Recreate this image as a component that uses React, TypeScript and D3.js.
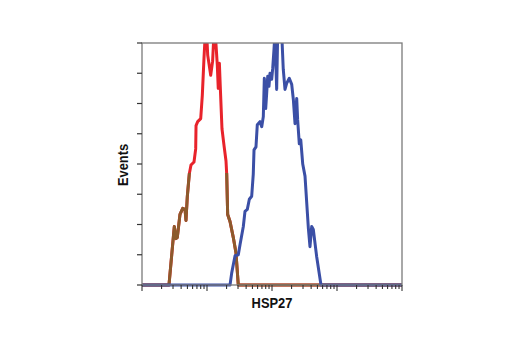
import React from "react";
import * as d3 from "d3";

// HSP27 histogram, channel values (log axis) and event counts
const redChannel = [1, 2.6, 3.14, 3.33, 3.49, 3.84, 4.23, 4.59, 4.75, 4.98, 5.34, 5.67, 6.31, 6.7, 6.78, 7.19, 8.0, 8.47, 8.99, 9.42, 9.8, 10.25, 11.4, 12.2, 12.8, 13.4, 14.4, 14.9, 15.5, 16.0, 17.0, 18.3, 19.6, 20.1, 20.8, 22.6, 25.4, 27.9, 30.3, 10000];
const redEvents = [0, 0, 58, 46, 47, 70, 76, 75, 64, 88, 110, 119, 122, 135, 158, 162, 165, 188, 225, 250, 255, 228, 208, 222, 250, 250, 218, 195, 220, 197, 155, 138, 123, 110, 70, 63, 47, 32, 0, 0];

const blueChannel = [1, 22.6, 24.0, 27.0, 30.3, 32.2, 36.2, 38.4, 41.7, 44.8, 48.7, 51.5, 52.9, 56.7, 59.4, 65.3, 69.5, 73.5, 76.2, 80.0, 82.8, 85.9, 89.9, 93.1, 98.9, 102.6, 107.4, 111, 118, 122.4, 141, 149, 158.5, 168, 184.5, 201, 213, 226, 240, 248, 263, 277, 297, 322, 362, 384, 408, 432, 487, 567, 10000];
const blueEvents = [0, 0, 12, 29, 30, 40, 58, 73, 75, 85, 88, 110, 134, 137, 159, 162, 157, 167, 205, 175, 190, 207, 197, 210, 204, 215, 234, 250, 194, 250, 250, 214, 194, 200, 205, 199, 184, 160, 185, 164, 140, 144, 120, 108, 57, 38, 58, 55, 28, 0, 0];

const yTicks = [0, 30, 60, 90, 120, 150, 180, 210, 240];
const overlapLevel = 111; // below this the red trace reads brown (overlay with control)

const W = 520;
const H = 350;
const left = 142;
const right = 402;
const top = 43;
const bottom = 285;

export default function App() {
  const x = d3.scaleLog().domain([1, 10000]).range([left, right]);
  const y = d3.scaleLinear().domain([0, 240]).range([bottom, top]);

  const line = d3
    .line<[number, number]>()
    .x((d) => x(d[0]))
    .y((d) => y(d[1]));

  const redPath = line(redChannel.map((c, i) => [c, redEvents[i]]) as [number, number][]) || "";
  const bluePath = line(blueChannel.map((c, i) => [c, blueEvents[i]]) as [number, number][]) || "";

  const xTicks = x.ticks();
  const isMajor = (t: number) => Math.abs(Math.log10(t) - Math.round(Math.log10(t))) < 1e-6;

  const axisColor = "#7a7a7a";
  const font = "Liberation Sans, Arial, sans-serif";

  return (
    <svg width={W} height={H} style={{ position: "absolute", left: 0, top: 0, background: "#fff" }}>
      <defs>
        <clipPath id="plot">
          <rect x={left} y={top} width={right - left} height={bottom - top + 2} />
        </clipPath>
        <clipPath id="low">
          <rect x={left} y={y(overlapLevel)} width={right - left} height={bottom - y(overlapLevel) + 2} />
        </clipPath>
      </defs>

      <g clipPath="url(#plot)">
        <path d={redPath} fill="none" stroke="#e8232b" strokeWidth={3} strokeLinejoin="round" />
        <g clipPath="url(#low)">
          <path d={redPath} fill="none" stroke="#8c5a2c" strokeWidth={3} strokeLinejoin="round" />
        </g>
        <path d={bluePath} fill="none" stroke="#3b4fa6" strokeWidth={3} strokeLinejoin="round" />
      </g>

      {/* frame */}
      <rect x={left} y={top} width={right - left} height={bottom - top} fill="none" stroke={axisColor} strokeWidth={1.3} />

      {/* y ticks */}
      {yTicks.map((t) => (
        <line key={`y${t}`} x1={left - 5} x2={left} y1={y(t)} y2={y(t)} stroke="#333" strokeWidth={1.2} />
      ))}

      {/* x ticks */}
      {xTicks.map((t, i) => (
        <line key={`x${i}`} x1={x(t)} x2={x(t)} y1={bottom} y2={bottom + (isMajor(t) ? 6 : 4)} stroke="#333" strokeWidth={1.1} />
      ))}

      <text
        transform={`translate(128, 165) rotate(-90) scale(0.86, 1)`}
        textAnchor="middle"
        fontFamily={font}
        fontWeight="bold"
        fontSize={15}
        fill="#111"
      >
        Events
      </text>
      <text
        transform={`translate(272, 308) scale(0.86, 1)`}
        textAnchor="middle"
        fontFamily={font}
        fontWeight="bold"
        fontSize={15}
        fill="#111"
      >
        HSP27
      </text>
    </svg>
  );
}
